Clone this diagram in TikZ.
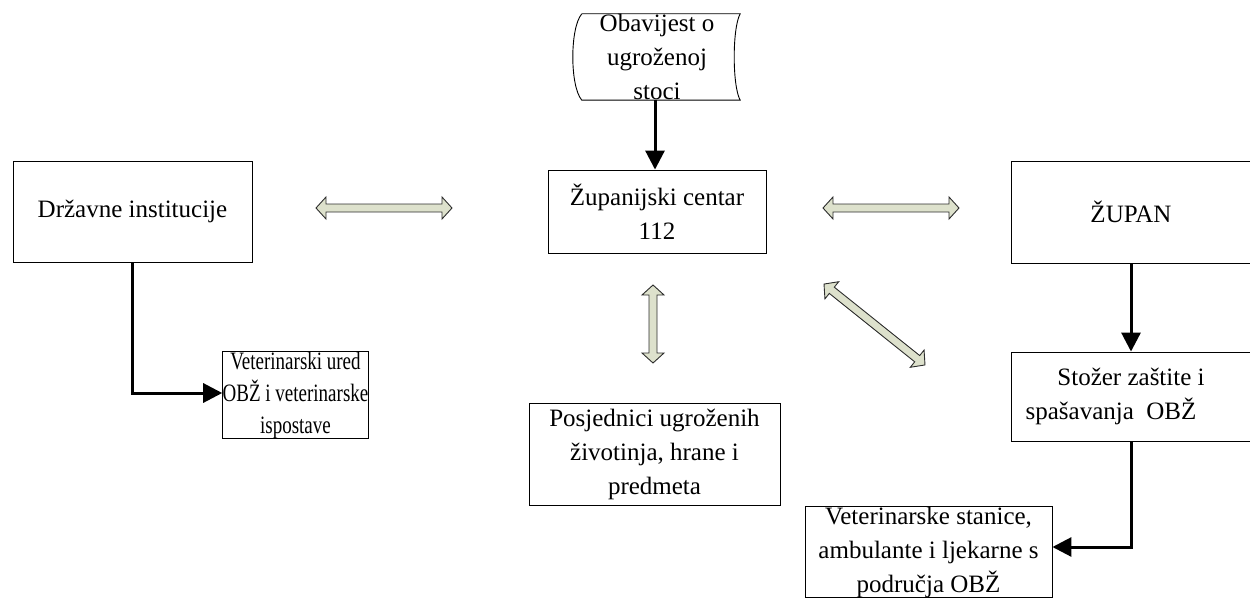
\documentclass[tikz,border=0pt]{standalone}
\usepackage{fontspec}
\setmainfont{Liberation Serif}
\newfontfamily\narrowserif[FakeStretch=0.76]{Liberation Serif}
\usetikzlibrary{arrows.meta}
\definecolor{arrfill}{RGB}{221,225,204}
\definecolor{arrline}{RGB}{45,45,45}
\tikzset{
  box/.style={draw=black, line width=0.9pt, align=center, inner sep=0pt,
              font=\fontsize{25}{34}\selectfont},
  txt/.style={align=center, inner sep=0pt, font=\fontsize{25}{34}\selectfont},
  conn/.style={line width=3pt, -{Triangle[length=19pt,width=19pt]}},
  dbla/.style={draw=arrline, fill=arrfill, line width=0.9pt, line join=miter}
}
% hollow double-headed arrow: centre, angle, half length
\newcommand\DblArrow[3]{%
  \begin{scope}[shift={#1}, rotate=#2]
    \draw[dbla] (-#3,0) -- (-#3+10,11) -- (-#3+10,4) -- (#3-10,4) -- (#3-10,11)
      -- (#3,0) -- (#3-10,-11) -- (#3-10,-4) -- (-#3+10,-4) -- (-#3+10,-11) -- cycle;
  \end{scope}}
\begin{document}
\begin{tikzpicture}[x=1pt, y=-1pt]
  \useasboundingbox (0,0) rectangle (1250,599);

  % stored-data shape for the incoming notice
  \node[txt, minimum width=166pt, minimum height=86pt] (obav) at (657,57)
    {Obavijest o\\ugroženoj\\stoci};
  \draw[line width=0.9pt] (obav.north west) ++(8,0) -- (obav.north east)
    .. controls ++(-8,14) and ++(-8,-14) .. (obav.south east)
    -- ([xshift=8pt]obav.south west)
    .. controls ++(-12,-14) and ++(-12,14) .. ([xshift=8pt]obav.north west);
  \coordinate (obavb) at (655,100);

  % boxes
  \node[box, minimum width=239pt, minimum height=101pt] (drz) at (132.5,211.5)
    {Državne institucije};
  \node[box, minimum width=218pt, minimum height=83pt] (zup) at (657,211.5)
    {Županijski centar\\112};
  \node[box, minimum width=240pt, minimum height=102pt] (zupan) at (1131,212)
    {ŽUPAN};
  \node[box, font=\narrowserif\fontsize{25}{32}\selectfont,
        minimum width=145pt, minimum height=86pt] (vured) at (295.5,395)
    {Veterinarski ured\\OBŽ i veterinarske\\ispostave};
  \node[box, minimum width=251pt, minimum height=102pt] (posj) at (654.5,454)
    {Posjednici ugroženih\\životinja, hrane i\\predmeta};
  \node[box, minimum width=240pt, minimum height=89pt] (stozer) at (1131,396.5)
    {Stožer zaštite i\\spašavanja\ \ OBŽ\hspace*{40pt}};
  \node[box, minimum width=247pt, minimum height=90pt] (vstan) at (928.5,552)
    {Veterinarske stanice,\\ambulante i ljekarne s\\područja OBŽ};

  % directed connectors
  \draw[conn] (obavb) -- (obavb |- zup.north);
  \draw[conn] (drz.south) |- ([yshift=2pt]vured.west);
  \draw[conn] (zupan.south) -- (stozer.north);
  \draw[conn] (stozer.south) |- ([yshift=5pt]vstan.east);

  % two-way exchanges
  \DblArrow{(384,208)}{0}{68}
  \DblArrow{(891,208)}{0}{68}
  \DblArrow{(653,324)}{90}{39}
  \DblArrow{(874.5,324.5)}{-38.7}{64.7}
\end{tikzpicture}
\end{document}
